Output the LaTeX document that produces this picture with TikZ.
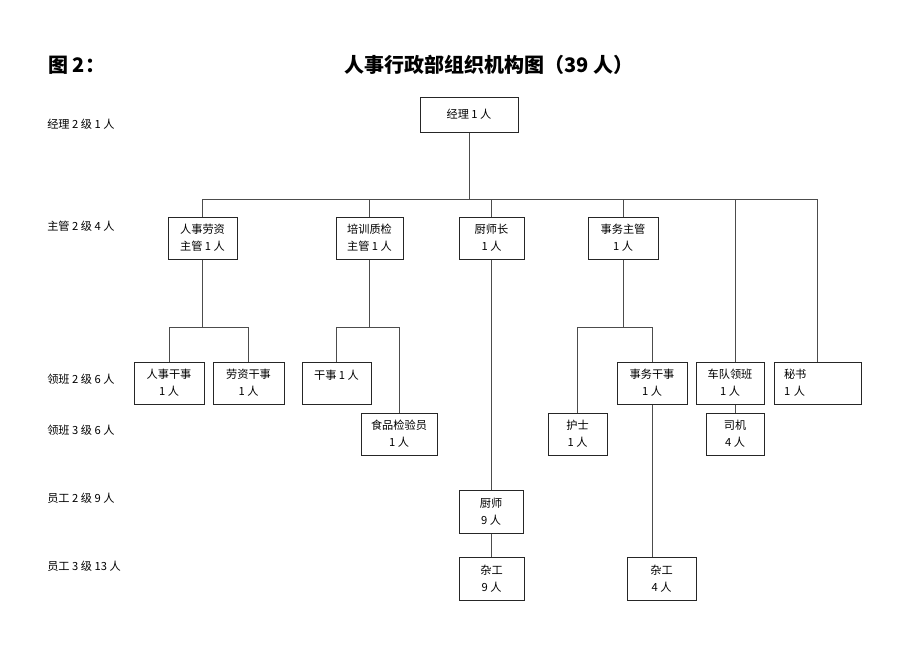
\documentclass[tikz,border=0pt]{standalone}
\usepackage{fontspec}
\setmainfont{Noto Sans CJK SC}
\usetikzlibrary{calc}
\tikzset{
  box/.style={draw=black!85, line width=0.75pt, inner sep=0pt, align=center,
    font=\fontsize{8.4}{12.75}\selectfont},
  conn/.style={draw=black!70, line width=0.75pt},
  lvl/.style={anchor=west, inner sep=0pt, font=\fontsize{8.4}{10}\selectfont},
  ttl/.style={inner sep=0pt, font=\fontsize{15}{18}\selectfont\bfseries}
}
\newcommand\bx[6][]{\node[box,#1, minimum width={(#4-#2)*0.75pt}, minimum height={(#5-#3)*0.75pt}] (#6) at ({(#2+#4)/2},{(#3+#5)/2})}
\begin{document}
\begin{tikzpicture}[x=0.75pt,y=-0.75pt]
\useasboundingbox (0,0) rectangle (920,651);
% titles
\node[ttl, anchor=west] (fig) at (48,65) {图 2：};
\node[ttl] (title) at (489,65) {人事行政部组织机构图（39 人）};
% level labels
\node[lvl] (l1) at (47,124) {经理 2 级 1 人};
\node[lvl] (l2) at (47,226) {主管 2 级 4 人};
\node[lvl] (l3) at (47,379) {领班 2 级 6 人};
\node[lvl] (l4) at (47,430) {领班 3 级 6 人};
\node[lvl] (l5) at (47,498) {员工 2 级 9 人};
\node[lvl] (l6) at (47,566) {员工 3 级 13 人};
% boxes
\bx{420}{97}{518}{132}{m} {经理 1 人};
\bx{168}{217}{237}{259}{s1} {人事劳资\\主管 1 人};
\bx{336}{217}{403}{259}{s2} {培训质检\\主管 1 人};
\bx{459}{217}{524}{259}{s3} {厨师长\\1 人};
\bx{588}{217}{658}{259}{s4} {事务主管\\1 人};
\bx{134}{362}{204}{404}{hs} {人事干事\\1 人};
\bx{213}{362}{284}{404}{ls} {劳资干事\\1 人};
\bx{302}{362}{371}{404}{gs} {干事 1 人\\\mbox{}};
\bx{361}{413}{437}{455}{sp} {食品检验员\\1 人};
\bx{617}{362}{687}{404}{swg} {事务干事\\1 人};
\bx{548}{413}{607}{455}{hu} {护士\\1 人};
\bx{696}{362}{764}{404}{cd} {车队领班\\1 人};
\bx{706}{413}{764}{455}{sj} {司机\\4 人};
\bx[text width={67*0.75pt}, align=left]{774}{362}{861}{404}{ms} {秘书\\1 人};
\bx{459}{490}{523}{533}{cs} {厨师\\9 人};
\bx{459}{557}{524}{600}{zg1} {杂工\\9 人};
\bx{627}{557}{696}{600}{zg2} {杂工\\4 人};
% bus coordinates
\coordinate (bus) at (0,199);
\coordinate (sub) at (0,327);
% connectors
\draw[conn] (m.south) -- (m.south |- bus);
\draw[conn] (s1.north) |- (ms.north |- bus) -- (ms.north);
\draw[conn] (s2.north) -- (s2.north |- bus);
\draw[conn] (s3.north) -- (s3.north |- bus);
\draw[conn] (s4.north) -- (s4.north |- bus);
\draw[conn] (cd.north -| sj.north) -- (sj.north |- bus);
\draw[conn] (sj.north) -- (cd.south -| sj.north);
\draw[conn] (s1.south) -- (s1.south |- sub);
\draw[conn] (hs.north) |- (ls.north |- sub) -- (ls.north);
\draw[conn] (s2.south) -- (s2.south |- sub);
\draw[conn] (gs.north) |- (sp.north |- sub) -- (sp.north);
\draw[conn] (s4.south) -- (s4.south |- sub);
\draw[conn] (hu.north) |- (swg.north |- sub) -- (swg.north);
\draw[conn] (s3.south) -- (s3.south |- cs.north);
\draw[conn] (cs.south) -- (cs.south |- zg1.north);
\draw[conn] (swg.south) -- (swg.south |- zg2.north);
\end{tikzpicture}
\end{document}
